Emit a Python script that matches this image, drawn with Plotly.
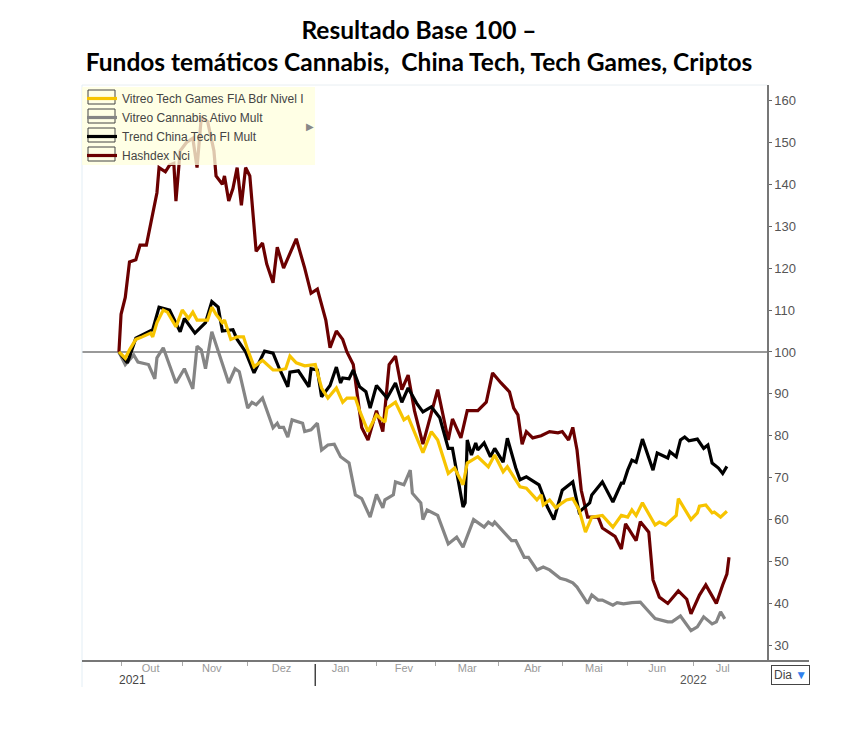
import plotly.graph_objects as go

# dias corridos desde o inicio do grafico (fim de set/2021), base 100
dias_hashdex = [0, 1, 3, 5, 8, 10, 13, 16, 18, 19,
                22, 24, 26, 27, 29, 32, 35, 37, 39, 42,
                45, 46, 49, 50, 52, 54, 56, 58, 60, 62,
                65, 68, 70, 73, 75, 78, 84, 88, 91, 94,
                98, 100, 103, 106, 108, 111, 113, 115, 118, 122,
                125, 128, 131, 134, 137, 140, 144, 151, 156, 158,
                162, 165, 170, 174, 177, 181, 185, 187, 189, 191,
                193, 196, 200, 204, 208, 210, 213, 215, 217, 219,
                222, 227, 229, 235, 238, 240, 245, 247, 251, 253,
                256, 260, 265, 269, 271, 275, 278, 283, 286, 288, 289]
hashdex = [100, 109, 113, 121.5, 122, 125.5, 125.5, 133, 138, 144,
           143, 144.6, 145, 136, 148, 150, 151, 144, 156, 155,
           148, 142, 140, 142, 136, 139, 144, 135, 144, 142,
           124, 126, 121, 116.5, 125, 120, 127, 120, 114, 115,
           107.6, 101, 105, 103, 100, 97, 90, 82, 79, 86,
           81, 97, 99, 91, 94.5, 86, 78, 91, 79, 84,
           79.5, 86, 86, 88, 95, 92.6, 90.5, 86.6, 85, 78,
           81, 79.5, 80, 81, 80.7, 81, 79, 82, 76.6, 67,
           60.6, 60.6, 58, 56, 53, 59, 55, 59.5, 57, 45.6,
           41.5, 40, 43, 41, 37.5, 42, 44.4, 40, 44.4, 47, 51]

dias_games = [0, 3, 5, 8, 11, 15, 16, 18, 21, 23,
              27, 30, 33, 35, 37, 42, 44, 46, 49, 50,
              53, 56, 59, 61, 64, 68, 73, 76, 79, 81,
              84, 88, 93, 96, 99, 103, 106, 108, 112, 114,
              118, 122, 126, 127, 131, 135, 137, 144, 148, 151,
              156, 159, 163, 165, 170, 175, 178, 182, 184, 190,
              193, 198, 200, 201, 204, 207, 210, 212, 215, 218,
              221, 224, 229, 234, 238, 241, 243, 245, 248, 254,
              256, 259, 264, 265, 271, 274, 275, 278, 281, 282, 285, 288]
games = [100, 98.5, 100.5, 103, 103.6, 104.5, 103.6, 107, 110, 109.5,
         106, 110, 108, 109.5, 107.6, 107.6, 110.7, 109, 107, 107.6,
         103, 103.6, 103.6, 100.5, 96.5, 98, 95.7, 95.7, 96, 99,
         97.4, 96.7, 97, 91.4, 89, 91.4, 88, 89, 89, 86,
         81, 85, 83.3, 86.6, 88, 83.8, 84.5, 76, 81, 79,
         71, 72.3, 68.3, 73.5, 75, 72.6, 75.4, 71.4, 72.6, 67.8,
         67.5, 64.7, 65.9, 63.5, 64.7, 62.8, 64, 64.7, 65, 62.3,
         57, 60.6, 61, 58.2, 61, 60.6, 62.3, 61, 64, 58.7,
         59.4, 58.7, 61, 65, 60, 61.6, 63.2, 63.5, 61.6, 61.8, 60.6, 62]

dias_china = [0, 4, 8, 11, 16, 19, 24, 29, 31, 36,
              41, 44, 47, 49, 54, 56, 60, 64, 69, 73,
              76, 80, 81, 85, 90, 91, 94, 96, 100, 103,
              105, 106, 109, 111, 114, 117, 119, 122, 127, 131,
              134, 137, 141, 144, 148, 152, 156, 158, 163, 164,
              165, 167, 169, 170, 173, 176, 178, 182, 184, 188,
              190, 193, 199, 203, 206, 210, 215, 218, 223, 224,
              227, 229, 234, 238, 239, 241, 243, 245, 248, 251,
              253, 255, 260, 261, 264, 266, 268, 270, 274, 277, 279, 281, 284, 286, 288]
china = [100, 97.4, 103.3, 104, 105.3, 110.7, 110, 104.8, 108, 104.5,
         107, 112, 110.7, 105, 105.3, 103, 100, 95, 100.2, 99.7,
         96, 91.7, 95.2, 95.5, 91.7, 96, 95.7, 89.3, 92, 96.4,
         92.6, 93.8, 93.6, 95.7, 91.7, 90.5, 86.6, 92, 89, 92.6,
         88, 91.4, 87.8, 85.7, 86.9, 84.3, 77, 77, 63, 64,
         79, 75.4, 78.3, 76.6, 78.3, 75, 77, 73.7, 79.4, 72.3,
         69.5, 70.2, 68.3, 63, 60, 67, 69, 61.8, 64, 65.9,
         67.8, 69, 64.2, 68.7, 68.7, 71.8, 74.2, 73.7, 79.2, 75,
         71.8, 75.9, 74.7, 76.2, 75, 79, 79.7, 78.8, 79.2, 77, 77.8, 73.5, 72.3, 71, 72.7]

dias_cannabis = [0, 3, 7, 9, 14, 17, 18, 21, 27, 31,
                 35, 37, 39, 41, 44, 52, 55, 57, 61, 63,
                 65, 68, 73, 75, 76, 78, 80, 82, 87, 88,
                 91, 94, 96, 99, 102, 105, 109, 112, 115, 119,
                 122, 125, 126, 130, 131, 135, 138, 139, 143, 144,
                 146, 151, 156, 160, 163, 168, 173, 175, 177, 178,
                 186, 188, 192, 194, 198, 201, 204, 209, 212, 215,
                 217, 222, 224, 227, 229, 234, 236, 239, 243, 247,
                 250, 254, 260, 262, 266, 271, 274, 277, 281, 283, 285, 287]
cannabis = [100, 97, 99.3, 97.6, 97, 93.6, 98.6, 101, 92.6, 96,
            91.2, 101.4, 100.5, 96, 104.8, 92.6, 96, 95.3, 86.6, 88,
            87.4, 89, 81.9, 83, 82, 82, 79.7, 83.8, 83, 81,
            81.4, 83, 76.6, 77.8, 78, 75, 73.5, 65.9, 65, 60.6,
            66, 62.8, 64.7, 65.9, 69, 68.3, 71.8, 66.3, 64, 60,
            62.3, 61, 54.2, 55.8, 53.4, 60, 58.2, 59.4, 58.7, 59.4,
            55, 55, 51, 51, 48, 48.7, 48, 46, 45.6, 44.9,
            43.9, 40, 42, 40.8, 40.8, 39.6, 40.2, 39.9, 40.2, 40.3,
            38.6, 36.4, 35.6, 35.6, 37, 33.5, 34.4, 36.8, 35.1, 35.6, 38, 36.3]

meses = ["Out", "Nov", "Dez", "Jan", "Fev", "Mar", "Abr", "Mai", "Jun", "Jul"]
dias_meses = [15, 44, 77, 105, 135, 165, 196, 225, 255, 286]
dias_virada = [1, 30, 61, 122, 150, 180, 210, 241, 272]
niveis = list(range(30, 170, 10))

W, H = 865, 733
L, R, T, B = 82, 767, 85, 660


# posicoes em pixel da janela para coordenadas paper
def pxx(p):
    return (p - L) / (R - L)


def pxy(p):
    return (B - p) / (B - T)


fig = go.Figure()
series = [
    ("Hashdex Nci", dias_hashdex, hashdex, "#6B0000", 4),
    ("Vitreo Cannabis Ativo Mult", dias_cannabis, cannabis, "#858585", 2),
    ("Trend China Tech FI Mult", dias_china, china, "#000000", 3),
    ("Vitreo Tech Games FIA Bdr Nivel I", dias_games, games, "#F7C400", 1),
]
for nome, x, y, cor, ordem in series:
    fig.add_trace(go.Scatter(x=x, y=y, mode="lines", name=nome, legendrank=ordem,
                             line=dict(color=cor, width=3.2)))

shapes = [
    dict(type="line", xref="paper", yref="y", x0=0, x1=1, y0=100, y1=100,
         line=dict(color="#777777", width=1.5), layer="below"),
    dict(type="line", xref="paper", yref="paper", x0=0, x1=1, y0=1, y1=1,
         line=dict(color="#E8EEF2", width=1)),
    dict(type="line", xref="paper", yref="paper", x0=0, x1=0, y0=pxy(687), y1=1,
         line=dict(color="#E3EEF5", width=1)),
    dict(type="line", xref="paper", yref="paper", x0=0, x1=pxx(809), y0=pxy(661), y1=pxy(661),
         line=dict(color="#777777", width=2)),
    dict(type="line", xref="x", yref="paper", x0=93, x1=93, y0=pxy(664), y1=pxy(686),
         line=dict(color="#444444", width=1.5)),
    dict(type="rect", xref="paper", yref="paper", x0=0, x1=pxx(315), y0=pxy(165), y1=pxy(87),
         fillcolor="rgba(255,255,222,0.78)", line=dict(width=0), layer="above"),
]
for i in range(4):
    topo = 90 + i * 19
    shapes.append(dict(type="rect", xref="paper", yref="paper", x0=pxx(88), x1=pxx(115),
                       y0=pxy(topo + 14), y1=pxy(topo),
                       line=dict(color="#444444", width=1), layer="above"))

anotacoes = [
    dict(text="2021", xref="paper", yref="paper", x=pxx(132), y=pxy(680), showarrow=False,
         xanchor="center", yanchor="middle", font=dict(size=12, color="#444444")),
    dict(text="2022", xref="paper", yref="paper", x=pxx(693), y=pxy(680), showarrow=False,
         xanchor="center", yanchor="middle", font=dict(size=12, color="#555555")),
    dict(text="\u25b6", xref="paper", yref="paper", x=pxx(310), y=pxy(126), showarrow=False,
         xanchor="center", yanchor="middle", font=dict(size=10, color="#888888")),
    dict(text='Dia <span style="color:#2F80ED">\u25bc</span>', xref="paper", yref="paper",
         x=pxx(791), y=pxy(675.5), showarrow=False, xanchor="center", yanchor="middle",
         bordercolor="#444444", borderwidth=1, borderpad=2, font=dict(size=12, color="#444444")),
]

fig.update_layout(
    width=W, height=H, autosize=False,
    margin=dict(l=L, r=W - R, t=T, b=H - B),
    paper_bgcolor="white", plot_bgcolor="white",
    font=dict(family="Liberation Sans, Arial, sans-serif"),
    title=dict(text="<b>Resultado Base 100 \u2013<br>Fundos tem\u00e1ticos Cannabis,  China Tech, Tech Games, Criptos</b>",
               font=dict(family="Lato, sans-serif", size=24.5, color="black"),
               x=419 / W, xanchor="center", y=1 - 39 / H, yanchor="top"),
    xaxis=dict(range=[-17.5, 307], showgrid=False, zeroline=False, showline=False,
               tickmode="array", tickvals=dias_meses, ticktext=meses, ticks="",
               tickfont=dict(size=11, color="#999999"),
               minor=dict(tickmode="array", tickvals=dias_virada, ticks="outside",
                          ticklen=5, tickcolor="#AAAAAA", tickwidth=1, showgrid=False)),
    yaxis=dict(range=[26.5, 163.7], side="right", showgrid=False, zeroline=False,
               showline=True, linecolor="#777777", linewidth=1.5,
               tickmode="array", tickvals=niveis, ticks="outside", ticklen=3,
               tickcolor="#666666", tickfont=dict(size=13, color="#555555")),
    legend=dict(x=0, y=pxy(84), xanchor="left", yanchor="top", bgcolor="rgba(0,0,0,0)",
                borderwidth=0, font=dict(size=12, color="#444444"), itemwidth=30),
    shapes=shapes, annotations=anotacoes,
)

# a pagina vem com margem de 8px no body
fig.write_html("out.html", post_script="document.body.style.margin='0';",
               config=dict(displayModeBar=False))
